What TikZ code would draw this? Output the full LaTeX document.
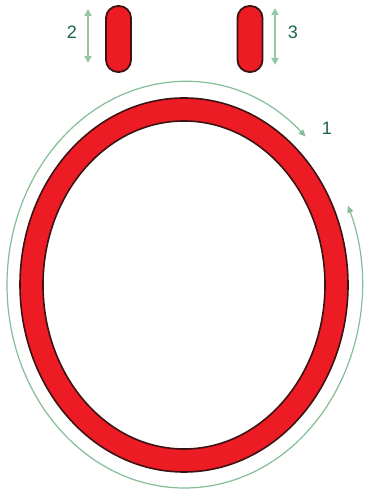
\documentclass[tikz,border=0pt]{standalone}
\usepackage{fontspec}
\setmainfont{Liberation Sans}
\usetikzlibrary{arrows.meta,calc}
\definecolor{ringred}{RGB}{237,28,36}
\definecolor{ringdark}{RGB}{60,18,18}
\definecolor{motion}{RGB}{130,190,150}
\definecolor{vibr}{RGB}{150,198,165}
\definecolor{labelgreen}{RGB}{30,100,70}
\tikzset{
  pill/.style={draw=ringdark, line width=1.8pt, fill=ringred, rounded corners=12pt, minimum width=25pt, minimum height=66pt, inner sep=0pt},
  ringline/.style={draw=ringdark, line width=1.6pt},
  rotarrow/.style={draw=motion, line width=1.2pt, {Triangle[length=7pt,width=6pt]}-{Triangle[length=7pt,width=6pt]}},
  vibarrow/.style={draw=vibr, line width=2pt, {Triangle[length=7pt,width=7pt]}-{Triangle[length=7pt,width=7pt]}},
  lbl/.style={text=labelgreen, font=\fontsize{18}{18}\selectfont, inner sep=0pt}
}
\begin{document}
\begin{tikzpicture}[x=1pt,y=1pt]
\fill[white] (0,0) rectangle (366,495);
\useasboundingbox (0,0) rectangle (366,495);
% ring
\coordinate (c) at (184,210);
\fill[ringred, even odd rule] (c) ellipse [x radius=164pt, y radius=187pt] (c) ellipse [x radius=141pt, y radius=164pt];
\draw[ringline] (c) ellipse [x radius=164pt, y radius=187pt];
\draw[ringline] (c) ellipse [x radius=141pt, y radius=164pt];
% rotation arc
\coordinate (g) at (184.5,210);
\coordinate (gs) at ($(g)+(47:177.5pt and 203pt)$);
\draw[rotarrow] (gs) arc [start angle=47, end angle=383, x radius=177.5pt, y radius=203pt];
\node[lbl] (l1) at (327,367) {1};
% pills
\node[pill] (p2) at (118.5,456) {};
\node[pill] (p3) at (250,456) {};
% vibration arrows
\coordinate (a2t) at (88,486);
\coordinate (a2b) at (88,432);
\coordinate (a3t) at (275,487);
\coordinate (a3b) at (275,430);
\draw[vibarrow] (a2t) -- (a2b);
\draw[vibarrow] (a3t) -- (a3b);
\node[lbl] (l2) at (72,463) {2};
\node[lbl] (l3) at (293,463) {3};
\end{tikzpicture}
\end{document}
